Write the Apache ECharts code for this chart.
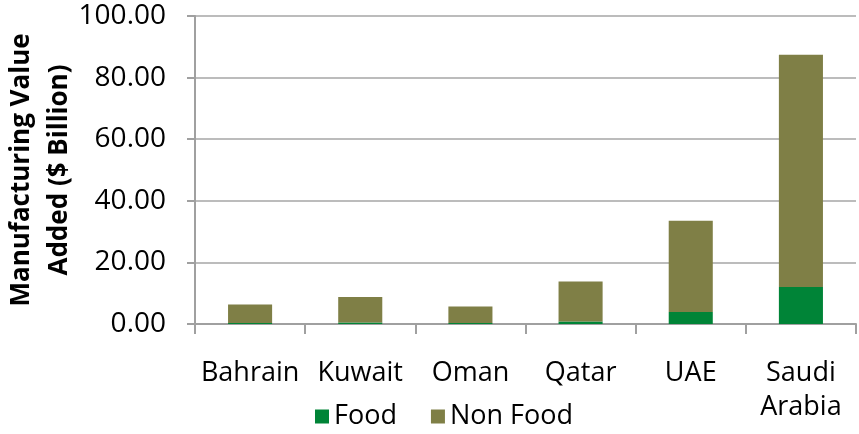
<!DOCTYPE html>
<html>
<head>
<meta charset="utf-8">
<script src="https://cdn.jsdelivr.net/npm/echarts@6/dist/echarts.min.js"></script>
<style>
  html, body { margin: 0; padding: 0; background: #fff; }
  #chart { width: 859px; height: 434px; }
</style>
</head>
<body>
<div id="chart"></div>
<script>
const categories = ["Bahrain", "Kuwait", "Oman", "Qatar", "UAE", "Saudi\nArabia"];
const foodValues = [0.3, 0.5, 0.3, 0.8, 3.9, 12.0];
const nonFoodValues = [6.0, 8.3, 5.4, 13.0, 29.6, 75.4];
const yTicks = { min: 0, max: 100, interval: 20 };

const chart = echarts.init(document.getElementById("chart"));
const font = "Open Sans";

chart.setOption({
  animation: false,
  grid: { left: 195, right: 3, top: 16, bottom: 110, outerBoundsMode: "none" },
  legend: {
    left: 310,
    top: 398,
    itemWidth: 14,
    itemHeight: 14,
    itemGap: 34,
    icon: "rect",
    textStyle: { fontFamily: font, fontSize: 27, color: "#000" },
    data: ["Food", "Non Food"],
  },
  xAxis: {
    type: "category",
    data: categories,
    axisLine: { lineStyle: { color: "#a0a0a0", width: 2 } },
    axisTick: { show: true, length: 10, lineStyle: { color: "#a0a0a0", width: 2 } },
    axisLabel: {
      fontFamily: font,
      fontSize: 27,
      color: "#000",
      margin: 32,
      lineHeight: 34,
      interval: 0,
    },
  },
  yAxis: {
    type: "value",
    min: yTicks.min,
    max: yTicks.max,
    interval: yTicks.interval,
    name: "Manufacturing Value\nAdded ($ Billion)",
    nameLocation: "middle",
    nameGap: 116,
    nameMoveOverlap: false,
    nameTextStyle: {
      fontFamily: font,
      fontSize: 26,
      fontWeight: "bold",
      color: "#000",
      lineHeight: 38,
    },
    axisLine: { show: true, lineStyle: { color: "#a0a0a0", width: 2 } },
    axisTick: { show: true, length: 8, lineStyle: { color: "#a0a0a0", width: 2 } },
    splitLine: { lineStyle: { color: "#a6a6a6", width: 1.5 } },
    axisLabel: {
      fontFamily: font,
      fontSize: 28,
      color: "#000",
      margin: 29,
      formatter: (v) => v.toFixed(2),
    },
  },
  series: [
    {
      name: "Food",
      type: "bar",
      stack: "total",
      barWidth: "40%",
      data: foodValues,
      itemStyle: { color: "#008437" },
    },
    {
      name: "Non Food",
      type: "bar",
      stack: "total",
      barWidth: "40%",
      data: nonFoodValues,
      itemStyle: { color: "#7f7f46" },
    },
  ],
});

window.addEventListener("resize", () => chart.resize());
</script>
</body>
</html>
